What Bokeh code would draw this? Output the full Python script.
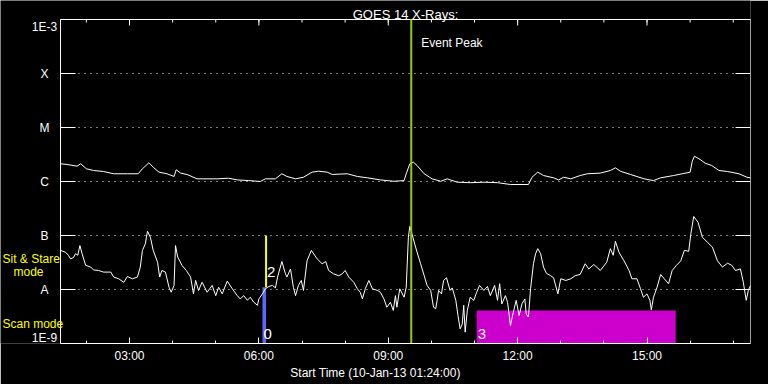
import math
import pandas as pd
from bokeh.plotting import figure
from bokeh.models import Range1d, FixedTicker, CustomJSTickFormatter, LinearAxis
from bokeh.core.properties import value
from bokeh.embed import file_html
from bokeh.resources import INLINE

DAY = "2013-01-10 "
start_time = "01:24"
end_time = "17:24"
event_peak = "09:32"
title_text = "GOES 14 X-Rays:"
x_title = "Start Time (10-Jan-13 01:24:00)"

major_hours = ["03:00", "06:00", "09:00", "12:00", "15:00"]
minor_hours = ["02:00", "03:00", "04:00", "05:00", "06:00", "07:00", "08:00", "09:00",
               "10:00", "11:00", "12:00", "13:00", "14:00", "15:00", "16:00", "17:00"]

flux_levels = [1e-9, 1e-8, 1e-7, 1e-6, 1e-5, 1e-4, 1e-3]
flux_labels = ["1E-9", "A", "B", "C", "M", "X", "1E-3"]

# GOES long channel (1-8 A)
long_t = ["01:24", "01:33", "01:47", "01:52", "02:00", "02:10", "02:24", "02:38", "02:57", "03:12",
          "03:18", "03:27", "03:34", "03:41", "03:52", "04:02", "04:05", "04:11", "04:20", "04:34",
          "05:02", "05:18", "05:30", "05:46", "06:02", "06:09", "06:23", "06:32", "06:39", "06:51",
          "07:02", "07:14", "07:23", "07:35", "07:42", "08:03", "08:17", "08:31", "08:49", "09:08",
          "09:22", "09:25", "09:30", "09:35", "09:40", "09:50", "10:01", "10:13", "10:22", "10:36",
          "10:54", "11:13", "11:32", "11:50", "12:15", "12:20", "12:28", "12:36", "12:50", "12:57",
          "13:04", "13:14", "13:27", "13:37", "13:55", "14:09", "14:16", "14:23", "14:37", "14:56",
          "15:09", "15:19", "15:37", "15:49", "16:00", "16:03", "16:06", "16:14", "16:21", "16:30",
          "16:40", "16:52", "17:08", "17:19", "17:24"]
long_f = [2.13e-6, 2.07e-6, 1.92e-6, 2.13e-6, 1.72e-6, 1.6e-6, 1.53e-6, 1.39e-6, 1.39e-6, 1.39e-6,
          1.72e-6, 2.22e-6, 1.79e-6, 1.49e-6, 1.39e-6, 1.24e-6, 1.65e-6, 1.43e-6, 1.35e-6, 1.12e-6,
          1.12e-6, 1.15e-6, 1.07e-6, 1.04e-6, 1.0e-6, 1.12e-6, 1.12e-6, 1.39e-6, 1.24e-6, 1.12e-6,
          1.2e-6, 1.49e-6, 1.55e-6, 1.49e-6, 1.35e-6, 1.39e-6, 1.24e-6, 1.17e-6, 1.07e-6, 1.01e-6,
          1.04e-6, 1.39e-6, 2.13e-6, 2.28e-6, 1.98e-6, 1.39e-6, 1.12e-6, 1.01e-6, 1.12e-6, 9.7e-7,
          9.5e-7, 9.7e-7, 9.5e-7, 8.8e-7, 8.8e-7, 1.2e-6, 1.49e-6, 1.29e-6, 1.17e-6, 1.07e-6,
          1.2e-6, 1.12e-6, 1.29e-6, 1.39e-6, 1.43e-6, 1.6e-6, 1.79e-6, 1.55e-6, 1.35e-6, 1.12e-6,
          1.04e-6, 1.17e-6, 1.29e-6, 1.39e-6, 1.49e-6, 2.38e-6, 2.94e-6, 2.55e-6, 2.18e-6, 1.98e-6,
          1.6e-6, 1.53e-6, 1.39e-6, 1.2e-6, 1.17e-6]

# GOES short channel (0.5-4 A)
short_t = ["01:24", "01:31", "01:35", "01:38", "01:42", "01:45", "01:48", "01:51", "01:54", "01:59",
           "02:06", "02:10", "02:17", "02:24", "02:34", "02:38", "02:45", "02:52", "02:57", "03:04",
           "03:11", "03:15", "03:18", "03:22", "03:25", "03:29", "03:33", "03:39", "03:42", "03:45",
           "03:50", "03:55", "03:58", "04:02", "04:04", "04:07", "04:13", "04:19", "04:25", "04:29",
           "04:32", "04:36", "04:41", "04:48", "04:55", "05:00", "05:04", "05:09", "05:16", "05:23",
           "05:30", "05:34", "05:39", "05:44", "05:48", "05:53", "05:58", "06:00", "06:05", "06:09",
           "06:14", "06:19", "06:23", "06:26", "06:32", "06:37", "06:39", "06:44", "06:48", "06:51",
           "06:55", "06:59", "07:02", "07:07", "07:13", "07:21", "07:28", "07:33", "07:37", "07:44",
           "07:51", "07:56", "08:00", "08:05", "08:12", "08:17", "08:21", "08:24", "08:28", "08:33",
           "08:38", "08:45", "08:49", "08:54", "08:58", "09:03", "09:07", "09:10", "09:12", "09:16",
           "09:22", "09:25", "09:28", "09:30", "09:33", "09:38", "09:45", "09:50", "09:54", "09:59",
           "10:03", "10:06", "10:08", "10:10", "10:14", "10:17", "10:21", "10:26", "10:29", "10:34",
           "10:37", "10:40", "10:43", "10:45", "10:47", "10:50", "10:54", "10:59", "11:03", "11:07",
           "11:13", "11:18", "11:22", "11:28", "11:32", "11:35", "11:38", "11:43", "11:46", "11:50",
           "11:54", "11:58", "12:02", "12:06", "12:10", "12:12", "12:15", "12:18", "12:22", "12:25",
           "12:28", "12:32", "12:36", "12:40", "12:46", "12:50", "12:56", "13:00", "13:07", "13:14",
           "13:20", "13:27", "13:34", "13:39", "13:46", "13:55", "14:04", "14:09", "14:13", "14:16",
           "14:21", "14:28", "14:35", "14:39", "14:46", "14:51", "14:55", "15:00", "15:04", "15:06",
           "15:09", "15:14", "15:19", "15:24", "15:30", "15:35", "15:41", "15:47", "15:52", "15:58",
           "16:01", "16:05", "16:11", "16:17", "16:24", "16:31", "16:38", "16:45", "16:52", "16:58",
           "17:03", "17:10", "17:14", "17:18", "17:21", "17:24"]
short_f = [5.3e-8, 4.9e-8, 4.3e-8, 3.7e-8, 3.9e-8, 4.6e-8, 4.3e-8, 6.5e-8, 4.6e-8, 2.8e-8,
           2.6e-8, 2.3e-8, 2.25e-8, 2.1e-8, 2.1e-8, 1.7e-8, 1.58e-8, 1.36e-8, 1.74e-8, 1.58e-8,
           1.7e-8, 2.6e-8, 5.3e-8, 7.0e-8, 1.2e-7, 9.3e-8, 5.3e-8, 3.2e-8, 1.7e-8, 2.25e-8,
           2.1e-8, 1.1e-8, 8.9e-9, 1.19e-8, 6.5e-8, 4.0e-8, 2.8e-8, 2.25e-8, 1.7e-8, 8.3e-9,
           1.47e-8, 9.6e-9, 1.36e-8, 8.9e-9, 1.19e-8, 7.7e-9, 1.1e-8, 8.3e-9, 1.43e-8, 1.03e-8,
           7.7e-9, 6.7e-9, 7.7e-9, 6.3e-9, 7.2e-9, 5.8e-9, 5.1e-9, 6.7e-9, 8.3e-9, 1.03e-8,
           1.14e-8, 1.19e-8, 1.07e-8, 1.7e-8, 3.3e-8, 1.95e-8, 1.7e-8, 2.4e-8, 1.1e-8, 7.7e-9,
           1.19e-8, 1.47e-8, 9.6e-9, 3.4e-8, 5.3e-8, 3.7e-8, 3.0e-8, 3.3e-8, 2.25e-8, 1.95e-8,
           1.8e-8, 1.95e-8, 2.25e-8, 1.7e-8, 1.36e-8, 1.03e-8, 8.9e-9, 6.7e-9, 1.03e-8, 1.47e-8,
           1.03e-8, 9.6e-9, 8.9e-9, 6.7e-9, 4.7e-9, 5.8e-9, 4.1e-9, 7.7e-9, 4.7e-9, 1.03e-8,
           7.2e-9, 1.1e-8, 9.3e-8, 1.47e-7, 1.07e-7, 6.1e-8, 3.0e-8, 1.8e-8, 1.19e-8, 9.6e-9,
           4.7e-9, 4.4e-9, 6.3e-9, 9.6e-9, 8.3e-9, 1.47e-8, 1.65e-8, 9.6e-9, 1.07e-8, 6.3e-9,
           3.3e-9, 1.87e-9, 2.3e-9, 5.1e-9, 1.62e-9, 4.1e-9, 7.2e-9, 6.3e-9, 8.9e-9, 1.19e-8,
           9.6e-9, 1.14e-8, 7.7e-9, 1.19e-8, 6.3e-9, 1.28e-8, 5.4e-9, 7.7e-9, 5.8e-9, 2.15e-9,
           3.8e-9, 6.3e-9, 3.3e-9, 5.4e-9, 6.7e-9, 3.5e-9, 3.1e-9, 1.03e-8, 3.0e-8, 4.6e-8,
           5.7e-8, 4.6e-8, 2.6e-8, 2.0e-8, 1.8e-8, 1.65e-8, 8.3e-9, 1.58e-8, 1.47e-8, 1.58e-8,
           1.8e-8, 1.9e-8, 3.0e-8, 2.4e-8, 2.9e-8, 2.25e-8, 3.2e-8, 5.7e-8, 4.3e-8, 7.8e-8,
           4.9e-8, 3.4e-8, 2.25e-8, 1.58e-8, 1.58e-8, 1.03e-8, 7.2e-9, 8.3e-9, 6.3e-9, 4.2e-9,
           7.2e-9, 1.1e-8, 1.9e-8, 1.58e-8, 1.28e-8, 2.25e-8, 2.8e-8, 3.4e-8, 5.3e-8, 5.1e-8,
           1.07e-7, 2.25e-7, 1.76e-7, 9.3e-8, 7.5e-8, 6.1e-8, 3.4e-8, 2.6e-8, 3.07e-8, 2.8e-8,
           2.25e-8, 2.4e-8, 1.36e-8, 6.3e-9, 9.6e-9, 1.19e-8]

# Instrument mode intervals
mode_labels = ["0", "2", "3"]
mode_start = ["06:05", "06:10", "11:03"]
mode_end = ["06:10", "06:10", "15:40"]
mode_low = [1e-9, 1.1e-8, 1e-9]
mode_high = [1.1e-8, 1e-7, 4.1e-9]
mode_label_y = [1.5e-9, 2.1e-8, 1.5e-9]

# mode-row captions on the left
row_captions = ["Sit & Stare", "mode", "Scan mode"]
row_caption_y = [3.6e-8, 2.15e-8, 2.25e-9]

event_label = "Event Peak"
event_label_y = 3.6e-4


def ms(hm):
    return pd.Timestamp(DAY + hm).timestamp() * 1000.0


# ---- layout (pixels) ----
W, H = 768, 384
LEFT_PAD, PLOT_W = 60, 690      # data area starts 60 px into the frame
TOP_PAD, PLOT_H = 19, 324
BOTTOM_BORDER, RIGHT_BORDER = 41, 18
MAJOR_TICK_PX, MINOR_TICK_PX, FLUX_TICK_PX = 6, 3, 15

FONT = "Liberation Sans"
WHITE = "white"

t0, t1 = ms(start_time), ms(end_time)
x_lo = t0 - LEFT_PAD / PLOT_W * (t1 - t0)
decades = math.log10(flux_levels[-1]) - math.log10(flux_levels[0])
y_hi = flux_levels[-1] * 10 ** (decades * TOP_PAD / PLOT_H)
y_major_tick = flux_levels[-1] * 10 ** (-decades * MAJOR_TICK_PX / PLOT_H)
y_minor_tick = flux_levels[-1] * 10 ** (-decades * MINOR_TICK_PX / PLOT_H)

p = figure(width=W, height=H, output_backend="svg", toolbar_location=None,
           x_range=Range1d(x_lo, t1), y_range=Range1d(flux_levels[0], y_hi),
           y_axis_type="log",
           x_axis_location=None, y_axis_location=None,
           min_border_left=0, min_border_right=RIGHT_BORDER,
           min_border_top=0, min_border_bottom=BOTTOM_BORDER,
           background_fill_color="black", border_fill_color="black",
           outline_line_color=None)
p.grid.visible = False

# ---- bottom time axis ----
major_ms = [ms(h) for h in major_hours]
minor_ms = [ms(h) for h in minor_hours]
xticker = FixedTicker(ticks=major_ms, minor_ticks=minor_ms)
hhmm = CustomJSTickFormatter(code="""
const d = new Date(tick);
const h = String(d.getUTCHours()).padStart(2, '0');
const m = String(d.getUTCMinutes()).padStart(2, '0');
return h + ':' + m;
""")

xa = LinearAxis(ticker=xticker, formatter=hhmm, bounds=(t0, t1), axis_label=x_title)
xa.major_tick_in = MAJOR_TICK_PX
xa.major_tick_out = 0
xa.minor_tick_in = MINOR_TICK_PX
xa.minor_tick_out = 0
xa.axis_line_color = WHITE
xa.major_tick_line_color = WHITE
xa.minor_tick_line_color = WHITE
xa.major_label_text_color = WHITE
xa.major_label_text_font = FONT
xa.major_label_text_font_size = "12px"
xa.major_label_standoff = 5
xa.axis_label_text_color = WHITE
xa.axis_label_text_font = FONT
xa.axis_label_text_font_size = "12px"
xa.axis_label_text_font_style = "normal"
xa.axis_label_standoff = 0
p.add_layout(xa, "below")

# ---- box edges (left, top, right), ticks, dotted flux grid ----
p.segment(x0=[t0, t0, t1], y0=[flux_levels[0], flux_levels[-1], flux_levels[0]],
          x1=[t0, t1, t1], y1=[flux_levels[-1], flux_levels[-1], flux_levels[-1]],
          line_color=WHITE, line_width=1)
p.segment(x0=[t0] * 5, y0=flux_levels[1:-1], x1=[t1] * 5, y1=flux_levels[1:-1],
          line_color=WHITE, line_width=1, line_dash="1 5")
p.ray(x=[t0] * len(flux_levels), y=flux_levels, length=FLUX_TICK_PX, length_units="screen",
      angle=0, line_color=WHITE, line_width=1)
p.ray(x=[t1] * len(flux_levels), y=flux_levels, length=FLUX_TICK_PX, length_units="screen",
      angle=math.pi, line_color=WHITE, line_width=1)
p.segment(x0=major_ms, y0=[flux_levels[-1]] * len(major_ms), x1=major_ms,
          y1=[y_major_tick] * len(major_ms), line_color=WHITE, line_width=1)
p.segment(x0=minor_ms, y0=[flux_levels[-1]] * len(minor_ms), x1=minor_ms,
          y1=[y_minor_tick] * len(minor_ms), line_color=WHITE, line_width=1)

# flux class labels
lab_kw = dict(text_color=WHITE, text_font=value(FONT), text_font_size="12px",
              text_align="center", x_offset=-16)
p.text(x=[t0] * 5, y=flux_levels[1:-1], text=flux_labels[1:-1], text_baseline="middle", **lab_kw)
p.text(x=[t0], y=[flux_levels[-1]], text=[flux_labels[-1]], text_baseline="top", **lab_kw)
p.text(x=[t0], y=[flux_levels[0]], text=[flux_labels[0]], text_baseline="bottom", y_offset=1, **lab_kw)

# title
p.text(x=[(t0 + t1) / 2], y=[y_hi], text=[title_text], text_color=WHITE,
       text_font=value(FONT), text_font_size="13px", text_align="center",
       text_baseline="alphabetic", y_offset=14)

# ---- mode bars ----
p.quad(left=[ms(mode_start[0])], right=[ms(mode_end[0])], bottom=[mode_low[0]], top=[mode_high[0]],
       fill_color="#6464ff", line_color=None)
p.quad(left=[ms(mode_start[2])], right=[ms(mode_end[2])], bottom=[mode_low[2]], top=[mode_high[2]],
       fill_color="#cc00cc", line_color=None)
p.segment(x0=[ms(mode_start[1])], y0=[mode_low[1]], x1=[ms(mode_end[1])], y1=[mode_high[1]],
          line_color="#ffff00", line_width=2)

# ---- curves ----
p.line([ms(t) for t in long_t], long_f, line_color=WHITE, line_width=1)
p.line([ms(t) for t in short_t], short_f, line_color=WHITE, line_width=1)

# mode numbers
p.text(x=[ms(t) for t in mode_start], y=mode_label_y, text=mode_labels,
       text_color=WHITE, text_font=value(FONT), text_font_size="15px",
       text_align="left", text_baseline="middle", x_offset=1)

# ---- event peak ----
p.segment(x0=[ms(event_peak)], y0=[flux_levels[0]], x1=[ms(event_peak)], y1=[flux_levels[-1]],
          line_color="#99cc00", line_width=2)
p.text(x=[ms(event_peak)], y=[event_label_y], text=[event_label], text_color=WHITE,
       text_font=value(FONT), text_font_size="12px", text_align="left",
       text_baseline="middle", x_offset=10)

# ---- row captions ----
cap_kw = dict(text_color="#ffff00", text_font=value(FONT), text_font_size="12px",
              text_align="left", text_baseline="middle")
p.text(x=[t0, t0], y=[row_caption_y[0], row_caption_y[2]], text=[row_captions[0], row_captions[2]],
       x_offset=-58, **cap_kw)
p.text(x=[t0], y=[row_caption_y[1]], text=[row_captions[1]], x_offset=-47, **cap_kw)

open("out.html", "w").write(file_html(p, INLINE))
